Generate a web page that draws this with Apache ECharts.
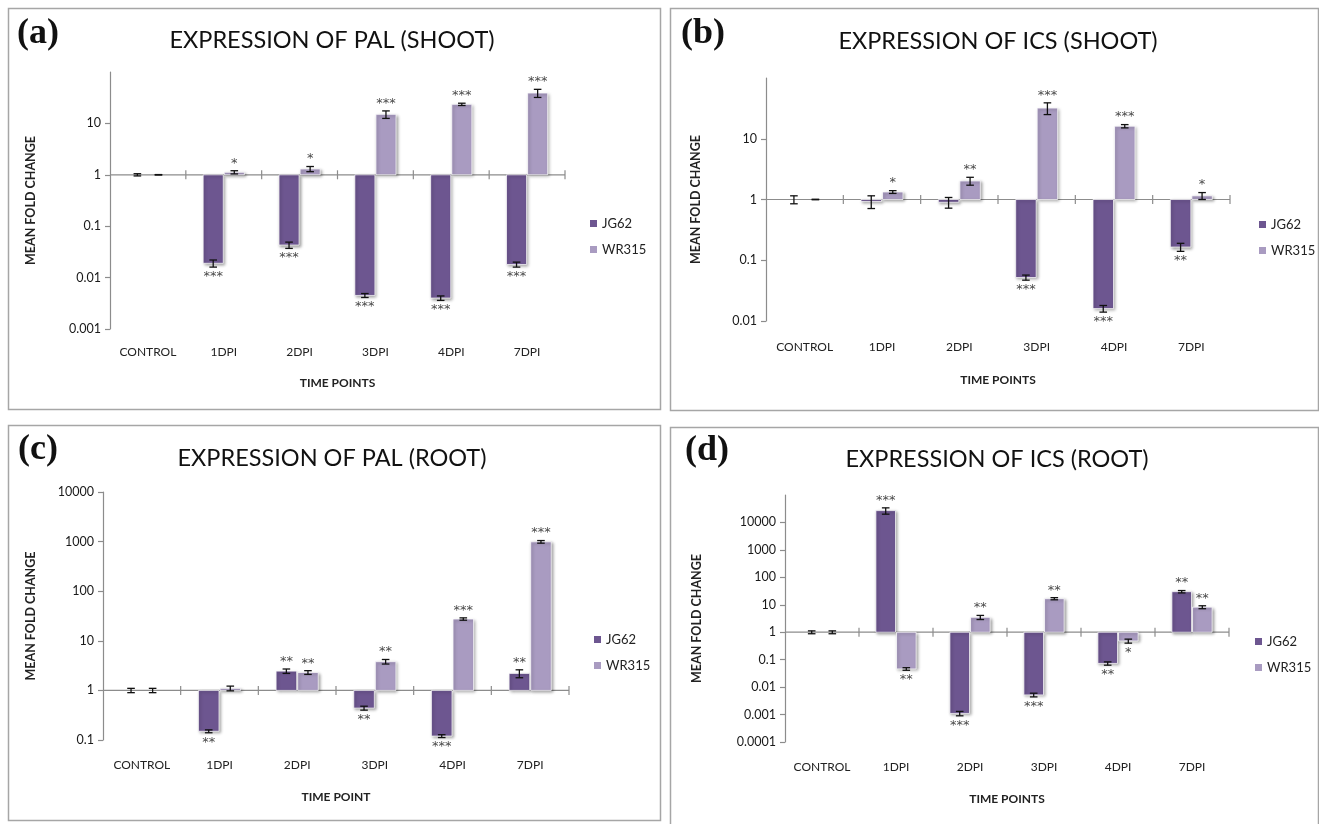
<!DOCTYPE html>
<html>
<head>
<meta charset="utf-8">
<script src="https://cdn.jsdelivr.net/npm/echarts@6/dist/echarts.min.js"></script>
<style>
html,body{margin:0;padding:0;background:#fff;}
#chart{width:1319px;height:824px;}
</style>
</head>
<body>
<div id="chart"></div>
<script>
const categories = ['CONTROL', '1DPI', '2DPI', '3DPI', '4DPI', '7DPI'];
const seriesNames = ['JG62', 'WR315'];

// (a) PAL shoot
const palShootJG62 = [1, 0.019, 0.043, 0.0045, 0.004, 0.018];
const palShootJG62Err = [0.05, 0.003, 0.006, 0.0004, 0.0004, 0.002];
const palShootJG62Sig = ['', '***', '***', '***', '***', '***'];
const palShootWR315 = [1, 1.12, 1.3, 15, 23.5, 39];
const palShootWR315Err = [0.01, 0.08, 0.15, 2.5, 1.2, 7];
const palShootWR315Sig = ['', '*', '*', '***', '***', '***'];
const palShootTicks = [0.001, 0.01, 0.1, 1, 10];

// (b) ICS shoot
const icsShootJG62 = [1, 0.93, 0.9, 0.052, 0.016, 0.165];
const icsShootJG62Err = [0.15, 0.22, 0.18, 0.005, 0.002, 0.025];
const icsShootJG62Sig = ['', '', '', '***', '***', '**'];
const icsShootWR315 = [1, 1.33, 2.02, 32, 16.1, 1.15];
const icsShootWR315Err = [0.01, 0.07, 0.3, 7, 1, 0.15];
const icsShootWR315Sig = ['', '*', '**', '***', '***', '*'];
const icsShootTicks = [0.01, 0.1, 1, 10];

// (c) PAL root
const palRootJG62 = [1, 0.15, 2.45, 0.44, 0.12, 2.2];
const palRootJG62Err = [0.1, 0.01, 0.25, 0.04, 0.008, 0.4];
const palRootJG62Sig = ['', '**', '**', '**', '***', '**'];
const palRootWR315 = [1, 1.1, 2.3, 3.8, 27.5, 990];
const palRootWR315Err = [0.1, 0.12, 0.2, 0.4, 1.5, 60];
const palRootWR315Sig = ['', '', '**', '**', '***', '***'];
const palRootTicks = [0.1, 1, 10, 100, 1000, 10000];

// (d) ICS root
const icsRootJG62 = [1, 27000, 0.0011, 0.0052, 0.073, 30];
const icsRootJG62Err = [0.12, 7000, 0.0002, 0.0008, 0.01, 3];
const icsRootJG62Sig = ['', '***', '***', '***', '**', '**'];
const icsRootWR315 = [1, 0.046, 3.5, 16.7, 0.48, 8.2];
const icsRootWR315Err = [0.12, 0.005, 0.6, 1.5, 0.08, 1];
const icsRootWR315Sig = ['', '**', '**', '**', '*', '**'];
const icsRootTicks = [0.0001, 0.001, 0.01, 0.1, 1, 10, 100, 1000, 10000];

const FONT = 'Lato, "Open Sans", sans-serif';
const COLORS = ['#6d5690', '#a99bc1'];

const panels = [
  { label: '(a)', title: 'EXPRESSION OF PAL (SHOOT)', xName: 'TIME POINTS',
    vals: [palShootJG62, palShootWR315], errs: [palShootJG62Err, palShootWR315Err], sigs: [palShootJG62Sig, palShootWR315Sig],
    ticks: palShootTicks, yMin: 0.001, yMax: 100,
    box: [8, 8, 652, 401], grid: { left: 110, top: 72, width: 455, height: 257 },
    labelPos: [38, 34], titlePos: [332, 40], legendPos: [585, 212], xLabelMargin: 17, xNameGap: 48, yNameGap: 73 },
  { label: '(b)', title: 'EXPRESSION OF ICS (SHOOT)', xName: 'TIME POINTS',
    vals: [icsShootJG62, icsShootWR315], errs: [icsShootJG62Err, icsShootWR315Err], sigs: [icsShootJG62Sig, icsShootWR315Sig],
    ticks: icsShootTicks, yMin: 0.01, yMax: 100,
    box: [670, 8, 648, 402], grid: { left: 766, top: 78, width: 464, height: 243 },
    labelPos: [703, 34], titlePos: [998, 41], legendPos: [1254, 213], xLabelMargin: 20, xNameGap: 53, yNameGap: 64 },
  { label: '(c)', title: 'EXPRESSION OF PAL (ROOT)', xName: 'TIME POINT',
    vals: [palRootJG62, palRootWR315], errs: [palRootJG62Err, palRootWR315Err], sigs: [palRootJG62Sig, palRootWR315Sig],
    ticks: palRootTicks, yMin: 0.1, yMax: 10000,
    box: [8, 425, 652, 395], grid: { left: 103, top: 492, width: 466, height: 248 },
    labelPos: [38, 450], titlePos: [332, 458], legendPos: [589, 628], xLabelMargin: 19, xNameGap: 51, yNameGap: 66 },
  { label: '(d)', title: 'EXPRESSION OF ICS (ROOT)', xName: 'TIME POINTS',
    vals: [icsRootJG62, icsRootWR315], errs: [icsRootJG62Err, icsRootWR315Err], sigs: [icsRootJG62Sig, icsRootWR315Sig],
    ticks: icsRootTicks, yMin: 0.0001, yMax: 100000,
    box: [670, 427, 648, 402], grid: { left: 785, top: 495, width: 444, height: 247 },
    labelPos: [707, 451], titlePos: [997, 459], legendPos: [1250, 630], xLabelMargin: 19, xNameGap: 51, yNameGap: 82 }
];

function fmt(v) { return String(+v.toPrecision(6)); }

function barRender(sIdx, sigArr) {
  return function (params, api) {
    const cat = api.value(0), v = api.value(1), e = api.value(2);
    const band = api.size([1, 0])[0];
    const w = band * 0.265;
    const c0 = api.coord([cat, 1]);
    const c1 = api.coord([cat, v]);
    const x0 = sIdx === 0 ? c0[0] - w - 0.5 : c0[0] + 0.5;
    const xc = x0 + w / 2;
    const yTop = Math.min(c0[1], c1[1]);
    const h = Math.abs(c1[1] - c0[1]);
    const eHi = api.coord([cat, v + e])[1];
    const eLo = api.coord([cat, Math.max(v - e, 1e-12)])[1];
    const cap = 3.8;
    const children = [];
    if (h > 0.5) {
      children.push({ type: 'rect', shape: { x: x0, y: yTop, width: w, height: h },
        style: { fill: COLORS[sIdx], stroke: 'rgba(255,255,255,0.9)', lineWidth: 0.8,
          shadowBlur: 3, shadowColor: 'rgba(0,0,0,0.35)', shadowOffsetX: 1.5, shadowOffsetY: 1.5 } });
    }
    const ls = { stroke: '#111', lineWidth: 1.3 };
    children.push({ type: 'line', shape: { x1: xc, y1: eHi, x2: xc, y2: eLo }, style: ls });
    children.push({ type: 'line', shape: { x1: xc - cap, y1: eHi, x2: xc + cap, y2: eHi }, style: ls });
    children.push({ type: 'line', shape: { x1: xc - cap, y1: eLo, x2: xc + cap, y2: eLo }, style: ls });
    const sig = sigArr[params.dataIndex];
    if (sig) {
      const up = v >= 1;
      children.push({ type: 'text', x: xc, y: up ? eHi - 1 : eLo + 3,
        style: { text: sig, fill: '#4a4a4a', font: '13px "DejaVu Sans", sans-serif', align: 'center', verticalAlign: up ? 'bottom' : 'top' } });
    }
    return { type: 'group', children: children };
  };
}

function axisRender(params, api) {
  const cat = api.value(0);
  const band = api.size([1, 0])[0];
  const c = api.coord([cat, 1]);
  const st = { stroke: '#8c8c8c', lineWidth: 1.2 };
  return { type: 'group', children: [
    { type: 'line', shape: { x1: c[0] - band / 2, y1: c[1], x2: c[0] + band / 2, y2: c[1] }, style: st },
    { type: 'line', shape: { x1: c[0] + band / 2, y1: c[1] - 4.5, x2: c[0] + band / 2, y2: c[1] + 4.5 }, style: st }
  ] };
}

const grid = [], xAxis = [], yAxis = [], series = [], legend = [], graphic = [];
panels.forEach((p, i) => {
  grid.push(Object.assign({ containLabel: false }, p.grid));
  xAxis.push({ type: 'category', gridIndex: i, data: categories,
    axisLine: { show: false }, axisTick: { show: false },
    axisLabel: { margin: p.xLabelMargin, fontFamily: FONT, fontSize: 12, color: '#222', interval: 0 },
    name: p.xName, nameLocation: 'middle', nameGap: p.xNameGap,
    nameTextStyle: { fontFamily: FONT, fontSize: 12, fontWeight: 'bold', color: '#222' } });
  yAxis.push({ type: 'log', logBase: 10, gridIndex: i, min: p.yMin, max: p.yMax,
    splitLine: { show: false },
    axisLine: { show: true, lineStyle: { color: '#8c8c8c', width: 1.2 } },
    axisTick: { show: true, length: 5, customValues: p.ticks, lineStyle: { color: '#8c8c8c', width: 1.2 } },
    axisLabel: { customValues: p.ticks, margin: 9, fontFamily: FONT, fontSize: 12.5, color: '#1a1a1a', formatter: fmt },
    name: 'MEAN FOLD CHANGE', nameLocation: 'middle', nameGap: p.yNameGap, nameRotate: 90,
    nameTextStyle: { fontFamily: FONT, fontSize: 12.5, fontWeight: 'bold', color: '#222' } });
  series.push({ type: 'custom', name: 'axis' + i, xAxisIndex: i, yAxisIndex: i, clip: false, silent: true,
    data: categories.map((c, k) => [k, 1]), encode: { x: 0, y: 1 }, renderItem: axisRender, z: 1 });
  [0, 1].forEach(s => {
    series.push({ type: 'custom', name: seriesNames[s], xAxisIndex: i, yAxisIndex: i, clip: false,
      itemStyle: { color: COLORS[s] },
      data: categories.map((c, k) => [k, p.vals[s][k], p.errs[s][k]]),
      encode: { x: 0, y: 1 }, renderItem: barRender(s, p.sigs[s]), z: 2 });
  });
  legend.push({ data: seriesNames, orient: 'vertical', left: p.legendPos[0], top: p.legendPos[1],
    icon: 'rect', itemWidth: 7, itemHeight: 7, itemGap: 13, selectedMode: false,
    textStyle: { fontFamily: FONT, fontSize: 13, color: '#222' } });
  graphic.push({ type: 'rect', shape: { x: p.box[0] + 0.5, y: p.box[1] + 0.5, width: p.box[2], height: p.box[3] },
    style: { fill: 'none', stroke: '#a6a6a6', lineWidth: 1.5 }, silent: true, z: -1 });
  graphic.push({ type: 'text', x: p.labelPos[0], y: p.labelPos[1],
    style: { text: p.label, font: 'bold 36px "Liberation Serif", "DejaVu Serif", serif', fill: '#111', align: 'center', verticalAlign: 'middle' } });
  graphic.push({ type: 'text', x: p.titlePos[0], y: p.titlePos[1],
    style: { text: p.title, font: '23.5px ' + FONT, fill: '#111', align: 'center', verticalAlign: 'middle' } });
});

const chart = echarts.init(document.getElementById('chart'), null, { renderer: 'canvas' });
chart.setOption({ backgroundColor: '#fff', animation: false, grid, xAxis, yAxis, series, legend, graphic });
</script>
</body>
</html>
